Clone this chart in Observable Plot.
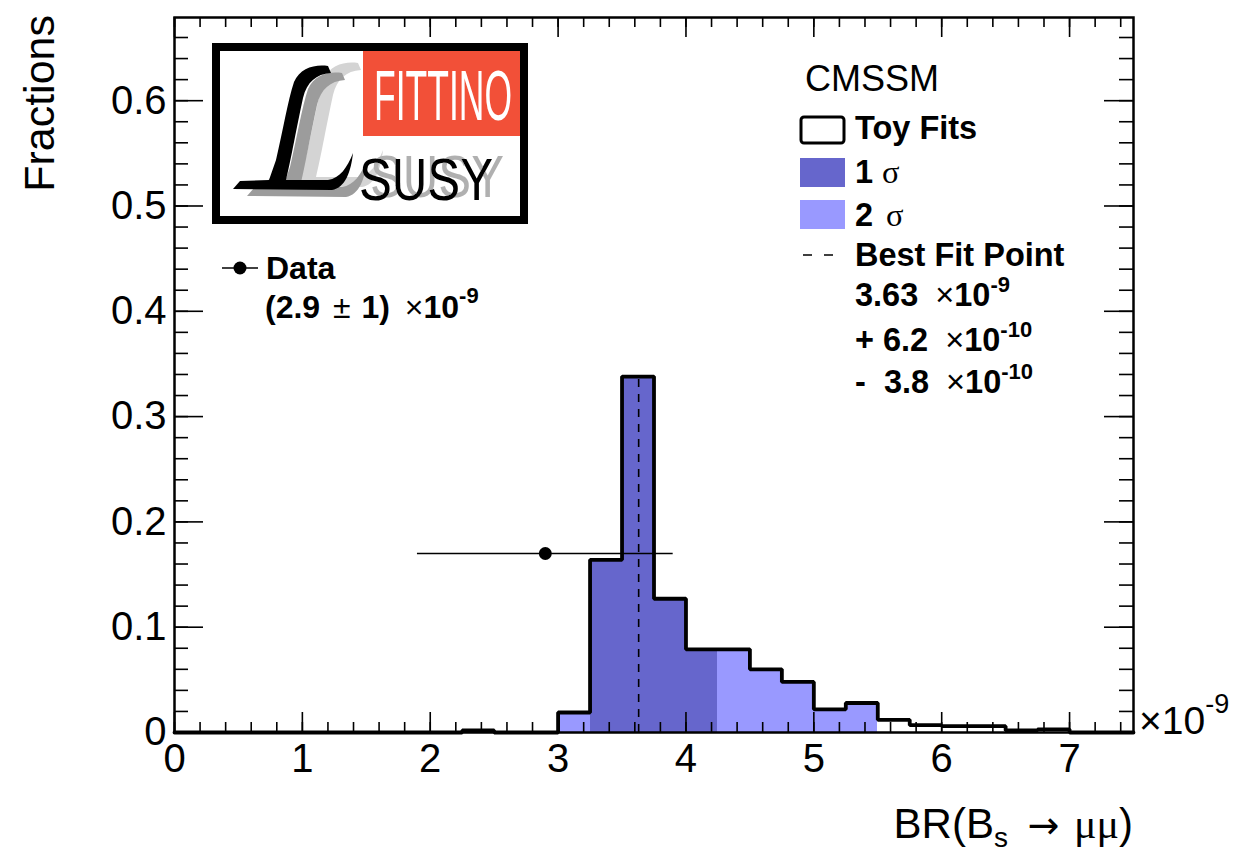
<!DOCTYPE html>
<html>
<head>
<meta charset="utf-8">
<script src="https://cdn.jsdelivr.net/npm/d3@7"></script>
<script src="https://cdn.jsdelivr.net/npm/@observablehq/plot@0.6"></script>
<style>
  body { margin: 0; background: #fff; }
  #chart { position: relative; width: 1236px; height: 855px; }
</style>
</head>
<body>
<div id="chart"></div>
<script>
// ---------------- data ----------------
const binLow = [0,0.25,0.5,0.75,1,1.25,1.5,1.75,2,2.25,2.5,2.75,3,3.25,3.5,3.75,4,4.25,4.5,4.75,5,5.25,5.5,5.75,6,6.25,6.5,6.75,7,7.25];
const binWidth = 0.25;
const fractions = [0,0,0,0,0,0,0,0,0,0.002,0,0,0.019,0.164,0.338,0.127,0.079,0.079,0.060,0.048,0.022,0.028,0.012,0.007,0.006,0.006,0.002,0.003,0,0];
const sigmaBand = ["","","","","","","","","","","","","2σ","1σ","1σ","1σ","1σ","2σ","2σ","2σ","2σ","2σ","","","","","","","",""];
const xTickValues = [0,1,2,3,4,5,6,7];
const yTickValues = [0,0.1,0.2,0.3,0.4,0.5,0.6];
const bestFitValue = 3.63;
const dataValue = [2.9];
const dataError = [1.0];
const dataFraction = [0.17];
const bandColors = {"1σ": "#6666cc", "2σ": "#9999ff"};

// ---------------- layout ----------------
const W = 1236, H = 855;
const mL = 174, mR = 103, mT = 17, mB = 123;
const xMax = 7.5, yMax = 0.679;
const pxPerX = (W - mL - mR) / xMax;
const pxPerY = (H - mT - mB) / yMax;

const bins = binLow.map((lo, i) => ({x1: lo, x2: lo + binWidth, y: fractions[i], band: sigmaBand[i]}));
const outline = bins.map(b => ({x: b.x1, y: b.y})).concat([{x: xMax, y: fractions[fractions.length - 1]}]);
const bestBin = bins.find(b => bestFitValue >= b.x1 && bestFitValue < b.x2);
const dataRows = dataValue.map((v, i) => ({x: v, lo: v - dataError[i], hi: v + dataError[i], y: dataFraction[i]}));

const xMinor = d3.range(0, 38).map(i => +(i * 0.2).toFixed(2));
const yMinor = d3.range(0, 34).map(i => +(i * 0.02).toFixed(3));

const tickStyle = {stroke: "black", strokeWidth: 1.6};

const plot = Plot.plot({
  width: W, height: H,
  marginLeft: mL, marginRight: mR, marginTop: mT, marginBottom: mB,
  style: {fontFamily: "'Liberation Sans', Arial, sans-serif", background: "white", color: "black"},
  x: {domain: [0, xMax], label: null},
  y: {domain: [0, yMax], label: null},
  marks: [
    Plot.rectY(bins.filter(b => b.band === "2σ"), {x1: "x1", x2: "x2", y1: 0, y2: "y", fill: bandColors["2σ"], shapeRendering: "crispEdges"}),
    Plot.rectY(bins.filter(b => b.band === "1σ"), {x1: "x1", x2: "x2", y1: 0, y2: "y", fill: bandColors["1σ"], shapeRendering: "crispEdges"}),
    // ticks (inside the frame, ROOT style)
    Plot.ruleX(xMinor, {x: d => d, y1: 0, y2: 10 / pxPerY, ...tickStyle}),
    Plot.ruleX(xMinor, {x: d => d, y1: yMax, y2: yMax - 10 / pxPerY, ...tickStyle}),
    Plot.ruleX(xTickValues, {x: d => d, y1: 0, y2: 20 / pxPerY, ...tickStyle}),
    Plot.ruleX(xTickValues, {x: d => d, y1: yMax, y2: yMax - 20 / pxPerY, ...tickStyle}),
    Plot.ruleY(yMinor, {y: d => d, x1: 0, x2: 14 / pxPerX, ...tickStyle}),
    Plot.ruleY(yMinor, {y: d => d, x1: xMax, x2: xMax - 14 / pxPerX, ...tickStyle}),
    Plot.ruleY(yTickValues, {y: d => d, x1: 0, x2: 29 / pxPerX, ...tickStyle}),
    Plot.ruleY(yTickValues, {y: d => d, x1: xMax, x2: xMax - 29 / pxPerX, ...tickStyle}),
    // best fit
    Plot.ruleX([bestFitValue], {x: d => d, y1: 0, y2: bestBin.y, stroke: "black", strokeWidth: 1.6, strokeDasharray: "8,7"}),
    // histogram outline
    Plot.line(outline, {x: "x", y: "y", curve: "step-after", stroke: "black", strokeWidth: 3.8, strokeLinejoin: "miter"}),
    // data point
    Plot.ruleY(dataRows, {y: "y", x1: "lo", x2: "hi", stroke: "black", strokeWidth: 1.4}),
    Plot.dot(dataRows, {x: "x", y: "y", r: 6.5, fill: "black", stroke: null}),
    Plot.frame({stroke: "black", strokeWidth: 2.5}),
    Plot.axisX({ticks: xTickValues, tickSize: 0, tickPadding: 11, fontSize: 40, label: null, tickFormat: d => String(d)}),
    Plot.axisY({ticks: yTickValues, tickSize: 0, tickPadding: 8, fontSize: 40, label: null, tickFormat: d => d === 0 ? "0" : d.toFixed(1)})
  ]
});

document.getElementById("chart").appendChild(plot);

// ---------------- annotations ----------------
const svg = d3.select(plot);
const SANS = "'Liberation Sans', Arial, sans-serif";
const SERIF = "'Liberation Serif', 'Times New Roman', serif";
const DEJAVU = "'DejaVu Sans', sans-serif";

function addText(parent, x, y, parts, opts = {}) {
  const t = parent.append("text")
    .attr("x", x).attr("y", y)
    .attr("font-family", opts.family || SANS)
    .attr("font-size", opts.size || 32)
    .attr("font-weight", opts.weight || "normal")
    .attr("text-anchor", opts.anchor || "start")
    .attr("fill", opts.fill || "black");
  if (opts.transform) t.attr("transform", opts.transform);
  let shift = 0;
  for (const p of parts) {
    const s = t.append("tspan").text(p.t);
    if (p.family) s.attr("font-family", p.family);
    if (p.weight) s.attr("font-weight", p.weight);
    if (p.size) s.attr("font-size", p.size);
    if (p.dx) s.attr("dx", p.dx);
    let target = 0;
    if (p.sup) target = -p.sup;
    else if (p.sub) target = p.sub;
    if (target !== shift) { s.attr("dy", target - shift); shift = target; }
  }
  return t;
}

// axis titles
addText(svg, 54, 15, [{t: "Fractions"}], {size: 43, anchor: "end", transform: "rotate(-90 54 15)"});
addText(svg, 1133, 838, [
  {t: "BR(B"}, {t: "s", sub: 9, size: 28}, {t: " "},
  {t: "→", family: DEJAVU, size: 38, dx: 8}, {t: " μμ", family: SERIF, dx: 4}, {t: ")"}
], {size: 42, anchor: "end"});
addText(svg, 1139, 734, [{t: "×10"}, {t: "-9", sup: 21, size: 27}], {size: 39});

// data legend
svg.append("line").attr("x1", 222).attr("x2", 258).attr("y1", 268).attr("y2", 268).attr("stroke", "black").attr("stroke-width", 1.6);
svg.append("circle").attr("cx", 240).attr("cy", 268).attr("r", 6.5).attr("fill", "black");
addText(svg, 266, 279, [{t: "Data"}], {weight: "bold", size: 32});
addText(svg, 265, 318, [
  {t: "(2.9 "}, {t: "±", weight: "normal", dx: 4}, {t: " 1) ", dx: 2}, {t: "×", weight: "normal", dx: 6}, {t: "10"}, {t: "-9", sup: 15, size: 22}
], {weight: "bold", size: 32});

// right legend
addText(svg, 805, 91, [{t: "CMSSM"}], {size: 36});
svg.append("rect").attr("x", 801).attr("y", 117).attr("width", 43).attr("height", 26).attr("rx", 3)
  .attr("fill", "white").attr("stroke", "black").attr("stroke-width", 3);
addText(svg, 855, 139, [{t: "Toy Fits"}], {weight: "bold", size: 32.5});
svg.append("rect").attr("x", 800).attr("y", 158).attr("width", 45).attr("height", 29).attr("fill", bandColors["1σ"]);
addText(svg, 855, 183, [{t: "1 "}, {t: "σ", family: SERIF, weight: "normal"}], {weight: "bold", size: 32.5});
svg.append("rect").attr("x", 800).attr("y", 200).attr("width", 45).attr("height", 29).attr("fill", bandColors["2σ"]);
addText(svg, 855, 226, [{t: "2 "}, {t: "σ", family: SERIF, weight: "normal", dx: 4}], {weight: "bold", size: 32.5});
svg.append("line").attr("x1", 803).attr("x2", 842).attr("y1", 255).attr("y2", 255)
  .attr("stroke", "black").attr("stroke-width", 1.6).attr("stroke-dasharray", "9,12");
addText(svg, 855, 266, [{t: "Best Fit Point"}], {weight: "bold", size: 32.5});
addText(svg, 855, 306, [{t: "3.63 "}, {t: "×", weight: "normal", dx: 8}, {t: "10"}, {t: "-9", sup: 14, size: 22}], {weight: "bold", size: 32.5});
addText(svg, 855, 351, [{t: "+ 6.2 "}, {t: "×", weight: "normal", dx: 8}, {t: "10"}, {t: "-10", sup: 14, size: 22}], {weight: "bold", size: 32.5});
addText(svg, 855, 393, [{t: "-  3.8 "}, {t: "×", weight: "normal", dx: 8}, {t: "10"}, {t: "-10", sup: 14, size: 22}], {weight: "bold", size: 32.5});

// logo
const defs = svg.append("defs");
const f = defs.append("filter").attr("id", "susyShadow").attr("x", "-20%").attr("y", "-30%").attr("width", "150%").attr("height", "160%");
f.append("feOffset").attr("in", "SourceAlpha").attr("dx", 11).attr("dy", -3).attr("result", "off");
f.append("feFlood").attr("flood-color", "#b0b0b0").attr("result", "col");
f.append("feComposite").attr("in", "col").attr("in2", "off").attr("operator", "in").attr("result", "shadow");
const fm = f.append("feMerge");
fm.append("feMergeNode").attr("in", "shadow");
fm.append("feMergeNode").attr("in", "SourceGraphic");

const logo = svg.append("g").attr("class", "logo").attr("text-anchor", "start");
logo.append("rect").attr("x", 216).attr("y", 47).attr("width", 308).attr("height", 173)
  .attr("fill", "white").attr("stroke", "black").attr("stroke-width", 8);
logo.append("rect").attr("x", 363).attr("y", 51).attr("width", 157).attr("height", 85).attr("fill", "#f25038");
logo.append("text").attr("x", 374).attr("y", 120).attr("text-anchor", "start")
  .attr("font-family", "'Liberation Sans Narrow', " + SANS)
  .attr("font-size", 70).attr("fill", "white").attr("textLength", 138).attr("lengthAdjust", "spacingAndGlyphs").text("FITTINO");
const Lpath = "M 328,66 C 315,64 300,68 294,82 C 288,100 283,130 276,160 L 269,180 L 240,181 L 233,189 L 332,190 C 345,188 351,172 353,153 C 347,168 340,178 328,180 L 286,180 C 291,160 297,125 303,98 C 307,82 316,74 331,73 Z";
logo.append("path").attr("d", Lpath).attr("fill", "#d4d4d4").attr("transform", "translate(30,-3)");
logo.append("path").attr("d", Lpath).attr("fill", "#9c9c9c").attr("transform", "translate(14,7)");
logo.append("path").attr("d", Lpath).attr("fill", "black");
logo.append("text").attr("x", 359).attr("y", 200).attr("text-anchor", "start").attr("font-family", SANS)
  .attr("font-size", 60).attr("fill", "black").attr("filter", "url(#susyShadow)")
  .attr("textLength", 134).attr("lengthAdjust", "spacingAndGlyphs").text("SUSY");
</script>
</body>
</html>
